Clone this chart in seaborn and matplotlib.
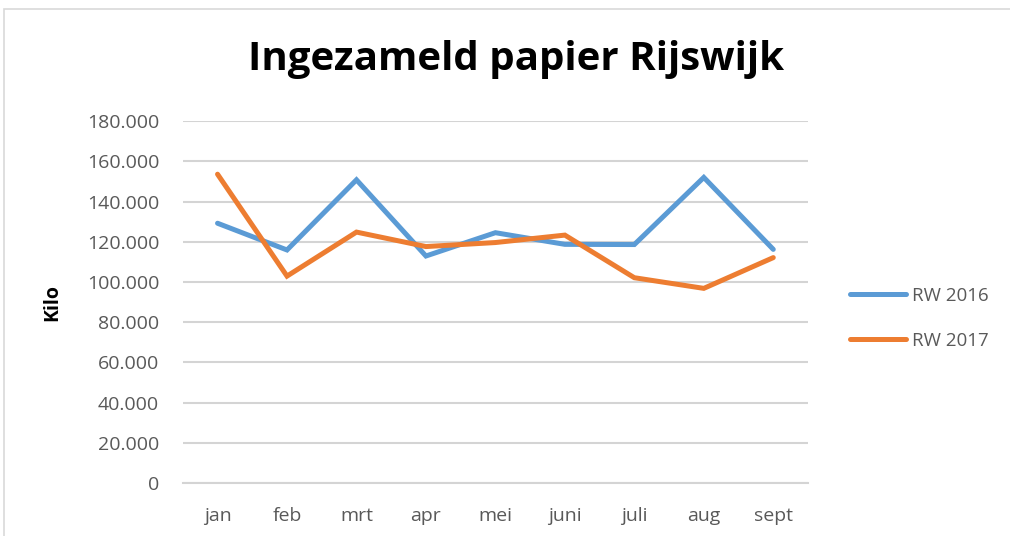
import pandas as pd
import matplotlib.pyplot as plt
import matplotlib.ticker as mticker
from matplotlib.patches import Rectangle
import seaborn as sns

# Data
maanden = ['jan', 'feb', 'mrt', 'apr', 'mei', 'juni', 'juli', 'aug', 'sept']
rw_2016 = [129200, 115900, 150800, 112900, 124500, 118700, 118600, 152000, 116200]
rw_2017 = [153600, 102900, 124800, 117600, 119600, 123300, 102100, 96800, 112100]
series_names = ['RW 2016', 'RW 2017']

df = pd.DataFrame({
    'maand': maanden * 2,
    'kilo': rw_2016 + rw_2017,
    'reeks': [series_names[0]] * len(maanden) + [series_names[1]] * len(maanden),
})

sns.set_theme(style='white')
plt.rcParams['font.family'] = ['Open Sans', 'DejaVu Sans']

fig = plt.figure(figsize=(10.1, 5.36), dpi=100)
ax = fig.add_axes([0.181, 0.099, 0.619, 0.675])

# chart border
fig.patches.append(Rectangle((0.004, -0.01), 1.1, 0.993, transform=fig.transFigure,
                             fill=False, edgecolor='#d9d9d9', linewidth=1.2))

sns.lineplot(data=df, x='maand', y='kilo', hue='reeks', sort=False,
             palette=['#5B9BD5', '#ED7D31'], linewidth=3.6, ax=ax,
             solid_capstyle='round', solid_joinstyle='miter')

ax.set_xlim(-0.5, len(maanden) - 0.5)
ax.set_ylim(0, 180000)
ax.yaxis.set_major_locator(mticker.MultipleLocator(20000))
ax.yaxis.set_major_formatter(mticker.FuncFormatter(
    lambda v, p: f'{int(v):,}'.replace(',', '.')))
ax.grid(axis='y', color='#d4d4d4', linewidth=1.5)
ax.set_axisbelow(True)
for side in ['top', 'right', 'left']:
    ax.spines[side].set_visible(False)
ax.spines['bottom'].set_color('#d4d4d4')
ax.spines['bottom'].set_linewidth(1.5)
ax.tick_params(axis='both', length=0, labelsize=14, labelcolor='#595959')
ax.tick_params(axis='y', pad=17)
ax.tick_params(axis='x', pad=17)
ax.set_xlabel('')
ax.set_ylabel('Kilo', fontsize=14, fontweight='bold', color='black', labelpad=18)

fig.suptitle('Ingezameld papier Rijswijk', x=0.511, y=0.925, fontsize=29,
             fontweight='bold', color='black')

leg = ax.legend(loc='center left', bbox_to_anchor=(1.04, 0.455), frameon=False,
                fontsize=13.5, handlelength=3.0, handletextpad=0.3, labelspacing=1.45)
for t in leg.get_texts():
    t.set_color('#595959')

fig.savefig('out.png', dpi=100)
